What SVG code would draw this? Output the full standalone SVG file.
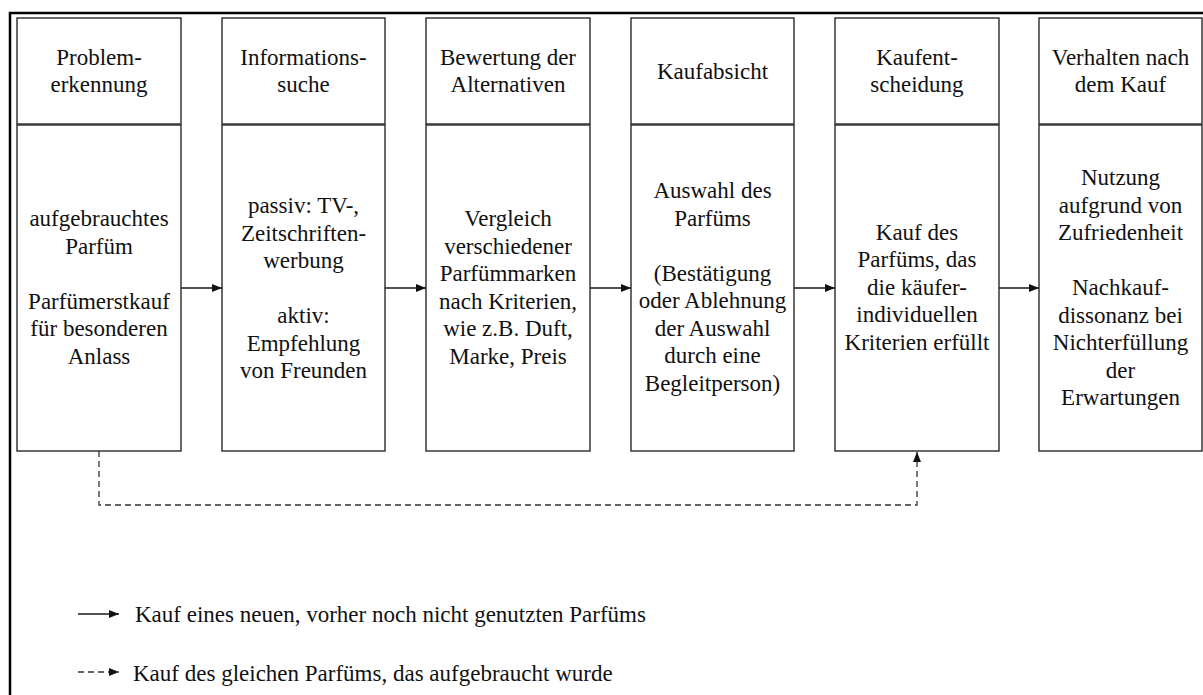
<svg xmlns="http://www.w3.org/2000/svg" width="1203" height="695" viewBox="0 0 1203 695">
<defs>
<marker id="ah" viewBox="0 0 10 8" refX="10" refY="4" markerWidth="10" markerHeight="8" markerUnits="userSpaceOnUse" orient="auto">
<path d="M0,0 L10,4 L0,8 Z" fill="#111"/>
</marker>
</defs>
<style>
.bx{fill:#fff;stroke:#2a2a2a;stroke-width:1.4}
.t{font-family:"Liberation Serif","Times New Roman",serif;font-size:23px;fill:#111;text-anchor:middle}
.lg{font-family:"Liberation Serif","Times New Roman",serif;font-size:23px;fill:#111}
.c{stroke:#1a1a1a;stroke-width:1.3;fill:none}
.d{stroke:#333;stroke-width:1.3;fill:none;stroke-dasharray:6 4}
</style>
<rect width="1203" height="695" fill="#fff"/>
<path d="M10,700 L10,13 L1210,13" fill="none" stroke="#000" stroke-width="2.5"/>

<g id="n1">
<rect class="bx" x="17" y="18" width="164" height="106"/>
<rect class="bx" x="17" y="125" width="164" height="326"/>
<text class="t" x="99" y="65">Problem-</text>
<text class="t" x="99" y="92">erkennung</text>
<text class="t" x="99" y="226">aufgebrauchtes</text>
<text class="t" x="99" y="253.5">Parfüm</text>
<text class="t" x="99" y="308.5">Parfümerstkauf</text>
<text class="t" x="99" y="336">für besonderen</text>
<text class="t" x="99" y="363.5">Anlass</text>
</g>

<g id="n2">
<rect class="bx" x="222" y="18" width="163" height="106"/>
<rect class="bx" x="222" y="125" width="163" height="326"/>
<text class="t" x="303.5" y="65">Informations-</text>
<text class="t" x="303.5" y="92">suche</text>
<text class="t" x="303.5" y="213">passiv: TV-,</text>
<text class="t" x="303.5" y="240.5">Zeitschriften-</text>
<text class="t" x="303.5" y="268">werbung</text>
<text class="t" x="303.5" y="323">aktiv:</text>
<text class="t" x="303.5" y="350.5">Empfehlung</text>
<text class="t" x="303.5" y="378">von Freunden</text>
</g>

<g id="n3">
<rect class="bx" x="426" y="18" width="164" height="106"/>
<rect class="bx" x="426" y="125" width="164" height="326"/>
<text class="t" x="508" y="65">Bewertung der</text>
<text class="t" x="508" y="92">Alternativen</text>
<text class="t" x="508" y="226">Vergleich</text>
<text class="t" x="508" y="253.5">verschiedener</text>
<text class="t" x="508" y="281">Parfümmarken</text>
<text class="t" x="508" y="308.5">nach Kriterien,</text>
<text class="t" x="508" y="336">wie z.B. Duft,</text>
<text class="t" x="508" y="363.5">Marke, Preis</text>
</g>

<g id="n4">
<rect class="bx" x="631" y="18" width="163" height="106"/>
<rect class="bx" x="631" y="125" width="163" height="326"/>
<text class="t" x="712.5" y="78.5">Kaufabsicht</text>
<text class="t" x="712.5" y="198">Auswahl des</text>
<text class="t" x="712.5" y="225.5">Parfüms</text>
<text class="t" x="712.5" y="280.5">(Bestätigung</text>
<text class="t" x="712.5" y="308">oder Ablehnung</text>
<text class="t" x="712.5" y="335.5">der Auswahl</text>
<text class="t" x="712.5" y="363">durch eine</text>
<text class="t" x="712.5" y="390.5">Begleitperson)</text>
</g>

<g id="n5">
<rect class="bx" x="835" y="18" width="164" height="106"/>
<rect class="bx" x="835" y="125" width="164" height="326"/>
<text class="t" x="917" y="65">Kaufent-</text>
<text class="t" x="917" y="92">scheidung</text>
<text class="t" x="917" y="239.5">Kauf des</text>
<text class="t" x="917" y="267">Parfüms, das</text>
<text class="t" x="917" y="294.5">die käufer-</text>
<text class="t" x="917" y="322">individuellen</text>
<text class="t" x="917" y="349.5">Kriterien erfüllt</text>
</g>

<g id="n6">
<rect class="bx" x="1039" y="18" width="163" height="106"/>
<rect class="bx" x="1039" y="125" width="163" height="326"/>
<text class="t" x="1120.5" y="65">Verhalten nach</text>
<text class="t" x="1120.5" y="92">dem Kauf</text>
<text class="t" x="1120.5" y="185">Nutzung</text>
<text class="t" x="1120.5" y="212.5">aufgrund von</text>
<text class="t" x="1120.5" y="240">Zufriedenheit</text>
<text class="t" x="1120.5" y="295">Nachkauf-</text>
<text class="t" x="1120.5" y="322.5">dissonanz bei</text>
<text class="t" x="1120.5" y="350">Nichterfüllung</text>
<text class="t" x="1120.5" y="377.5">der</text>
<text class="t" x="1120.5" y="405">Erwartungen</text>
</g>

<g id="connectors">
<line class="c" x1="181" y1="288" x2="222" y2="288" marker-end="url(#ah)"/>
<line class="c" x1="385" y1="288" x2="426" y2="288" marker-end="url(#ah)"/>
<line class="c" x1="590" y1="288" x2="631" y2="288" marker-end="url(#ah)"/>
<line class="c" x1="794" y1="288" x2="835" y2="288" marker-end="url(#ah)"/>
<line class="c" x1="999" y1="288" x2="1039" y2="288" marker-end="url(#ah)"/>
<path class="d" d="M99,451 L99,505 L917,505 L917,452" marker-end="url(#ah)"/>
</g>

<g id="legend">
<line class="c" x1="78" y1="614" x2="119" y2="614" marker-end="url(#ah)"/>
<text class="lg" x="135" y="622">Kauf eines neuen, vorher noch nicht genutzten Parfüms</text>
<line class="d" x1="78" y1="672" x2="119" y2="672" stroke-dasharray="7 5" marker-end="url(#ah)"/>
<text class="lg" x="133" y="681">Kauf des gleichen Parfüms, das aufgebraucht wurde</text>
</g>
</svg>
